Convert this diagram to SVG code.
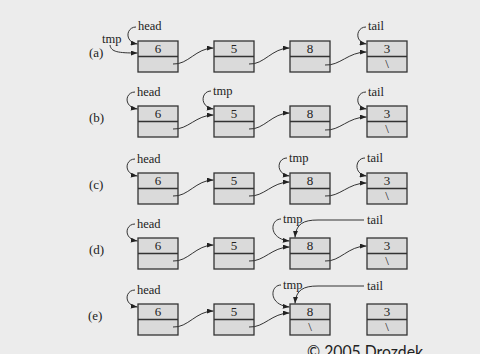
<svg xmlns="http://www.w3.org/2000/svg" width="480" height="354" viewBox="0 0 480 354">
<defs>
<marker id="ah" viewBox="0 0 8 6" refX="8" refY="3" markerWidth="7" markerHeight="5" markerUnits="userSpaceOnUse" orient="auto">
<path d="M0,0 L8,3 L0,6 z" fill="#222"/>
</marker>
<style>
.bx{fill:#dadada;stroke:#333;stroke-width:1.3}
.dv{stroke:#333;stroke-width:1.3}
.num{font-family:"Liberation Serif",serif;font-size:13px;fill:#222;text-anchor:middle}
.lbl{font-family:"Liberation Serif",serif;font-size:13px;fill:#222}
.ptr{font-family:"Liberation Serif",serif;font-size:12.5px;fill:#222}
.cn{fill:none;stroke:#333;stroke-width:1;marker-end:url(#ah)}
.ln{fill:none;stroke:#333;stroke-width:1}
.cp{font-family:Lato,"Open Sans",sans-serif;font-size:17px;fill:#222}
</style>
<g id="box">
<rect class="bx" x="0" y="0" width="40" height="31"/>
<line class="dv" x1="0" y1="15.5" x2="40" y2="15.5"/>
</g>
</defs>
<rect x="0" y="0" width="480" height="354" fill="#ececec"/>

<!-- Row labels -->
<g id="row-labels">
<text class="lbl" x="89" y="57">(a)</text>
<text class="lbl" x="89" y="122">(b)</text>
<text class="lbl" x="89" y="189">(c)</text>
<text class="lbl" x="89" y="254">(d)</text>
<text class="lbl" x="88" y="320">(e)</text>
</g>

<!-- Row a (T=41) -->
<g id="a1" transform="translate(138,41)"><use href="#box"/><text class="num" x="20" y="12">6</text></g>
<g id="a2" transform="translate(214,41)"><use href="#box"/><text class="num" x="20" y="12">5</text></g>
<g id="a3" transform="translate(290,41)"><use href="#box"/><text class="num" x="20" y="12">8</text></g>
<g id="a4" transform="translate(367,41)"><use href="#box"/><text class="num" x="20" y="12">3</text><text class="num" x="20" y="27">\</text></g>

<!-- Row b (T=106) -->
<g id="b1" transform="translate(138,106)"><use href="#box"/><text class="num" x="20" y="12">6</text></g>
<g id="b2" transform="translate(214,106)"><use href="#box"/><text class="num" x="20" y="12">5</text></g>
<g id="b3" transform="translate(290,106)"><use href="#box"/><text class="num" x="20" y="12">8</text></g>
<g id="b4" transform="translate(367,106)"><use href="#box"/><text class="num" x="20" y="12">3</text><text class="num" x="20" y="27">\</text></g>

<!-- Row c (T=173) -->
<g id="c1" transform="translate(138,173)"><use href="#box"/><text class="num" x="20" y="12">6</text></g>
<g id="c2" transform="translate(214,173)"><use href="#box"/><text class="num" x="20" y="12">5</text></g>
<g id="c3" transform="translate(290,173)"><use href="#box"/><text class="num" x="20" y="12">8</text></g>
<g id="c4" transform="translate(367,173)"><use href="#box"/><text class="num" x="20" y="12">3</text><text class="num" x="20" y="27">\</text></g>

<!-- Row d (T=238) -->
<g id="d1" transform="translate(138,238)"><use href="#box"/><text class="num" x="20" y="12">6</text></g>
<g id="d2" transform="translate(214,238)"><use href="#box"/><text class="num" x="20" y="12">5</text></g>
<g id="d3" transform="translate(290,238)"><use href="#box"/><text class="num" x="20" y="12">8</text></g>
<g id="d4" transform="translate(367,238)"><use href="#box"/><text class="num" x="20" y="12">3</text><text class="num" x="20" y="27">\</text></g>

<!-- Row e (T=304) -->
<g id="e1" transform="translate(138,304)"><use href="#box"/><text class="num" x="20" y="12">6</text></g>
<g id="e2" transform="translate(214,304)"><use href="#box"/><text class="num" x="20" y="12">5</text></g>
<g id="e3" transform="translate(290,304)"><use href="#box"/><text class="num" x="20" y="12">8</text><text class="num" x="20" y="27">\</text></g>
<g id="e4" transform="translate(367,304)"><use href="#box"/><text class="num" x="20" y="12">3</text><text class="num" x="20" y="27">\</text></g>

<!-- Pointer labels -->
<g id="pointers">
<text class="ptr" x="138" y="30">head</text>
<text class="ptr" x="102" y="43">tmp</text>
<text class="ptr" x="368" y="30">tail</text>

<text class="ptr" x="137" y="96">head</text>
<text class="ptr" x="213" y="95">tmp</text>
<text class="ptr" x="368" y="96">tail</text>

<text class="ptr" x="137" y="163">head</text>
<text class="ptr" x="289" y="162">tmp</text>
<text class="ptr" x="367" y="162">tail</text>

<text class="ptr" x="137" y="228">head</text>
<text class="ptr" x="283" y="223">tmp</text>
<text class="ptr" x="367" y="224">tail</text>

<text class="ptr" x="137" y="294">head</text>
<text class="ptr" x="283" y="289">tmp</text>
<text class="ptr" x="367" y="290">tail</text>
</g>

<!-- Connectors -->
<g id="connectors">
<!-- row a -->
<path class="cn" d="M136,27 C126,27 124,42 137.5,44"/>
<path class="cn" d="M110,45 C111,52 118,53 137.5,53"/>
<path class="cn" d="M366,27 C356,27 354,42 366.5,44"/>
<path class="cn" d="M173,64 C188,65 196,48 213.5,48"/>
<path class="cn" d="M249,64 C264,65 272,48 289.5,48"/>
<path class="cn" d="M325,65 C340,66 348,52 366.5,52"/>
<!-- row b -->
<path class="cn" d="M135,92 C125,92 123,107 137.5,109"/>
<path class="cn" d="M211,91 C201,91 199,107 213.5,109"/>
<path class="cn" d="M366,92 C356,92 354,107 366.5,109"/>
<path class="cn" d="M173,129 C188,130 196,115 213.5,115"/>
<path class="cn" d="M249,129 C264,130 272,113 289.5,113"/>
<path class="cn" d="M325,130 C340,131 348,117 366.5,117"/>
<!-- row c -->
<path class="cn" d="M135,159 C125,159 123,174 137.5,176"/>
<path class="cn" d="M287,158 C277,158 275,174 289.5,176"/>
<path class="cn" d="M365,158 C355,158 353,174 366.5,176"/>
<path class="cn" d="M173,196 C188,197 196,180 213.5,180"/>
<path class="cn" d="M249,196 C264,197 272,182 289.5,182"/>
<path class="cn" d="M325,196 C340,197 348,183 366.5,183"/>
<!-- row d -->
<path class="cn" d="M135,224 C125,224 123,239 137.5,241"/>
<path class="cn" d="M281,219 C270,219 268,239 289.5,241"/>
<path class="cn" d="M364,220 L318,220 C303,220 296,224 295,237.5"/>
<path class="cn" d="M173,261 C188,262 196,245 213.5,245"/>
<path class="cn" d="M249,261 C264,262 272,247 289.5,247"/>
<path class="cn" d="M325,261 C340,262 348,246 366.5,246"/>
<!-- row e -->
<path class="cn" d="M135,290 C125,290 123,305 137.5,307"/>
<path class="cn" d="M281,285 C270,285 268,305 289.5,307"/>
<path class="cn" d="M364,286 L318,286 C303,286 296,290 295,303.5"/>
<path class="cn" d="M173,327 C188,328 196,311 213.5,311"/>
<path class="cn" d="M249,327 C264,328 272,313 289.5,313"/>
</g>

<text class="cp" x="307" y="358" textLength="116" lengthAdjust="spacingAndGlyphs">© 2005 Drozdek</text>
</svg>
